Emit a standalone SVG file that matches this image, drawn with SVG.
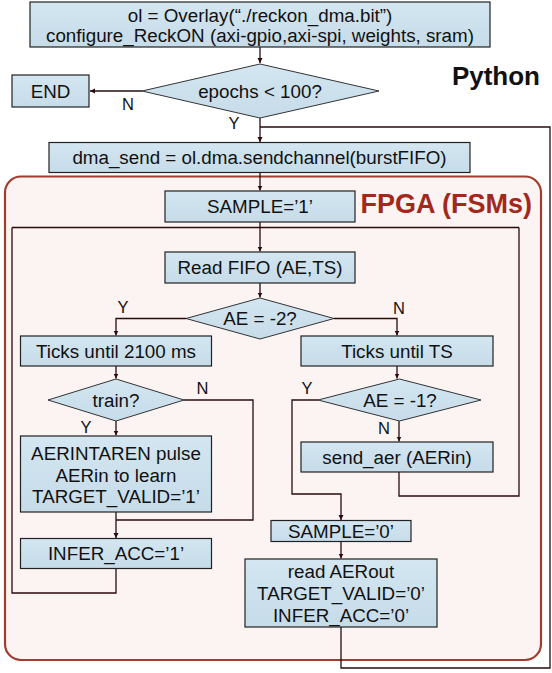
<svg xmlns="http://www.w3.org/2000/svg" width="552" height="673" viewBox="0 0 552 673">
<style>
text{font-family:"Liberation Sans",Arial,Helvetica,sans-serif;fill:#111;}
.t{font-size:18.8px;text-anchor:middle;}
.lbl{font-size:16.5px;text-anchor:middle;}
.box{fill:url(#bf);stroke:#222;stroke-width:1.2;}
.dia{fill:url(#bf);stroke:#333;stroke-width:1;}
.c{fill:none;stroke:#2a0b0b;stroke-width:1.3;}
.ca{fill:none;stroke:#2a0b0b;stroke-width:1.3;marker-end:url(#ah);}
</style>
<defs>
<linearGradient id="bf" x1="0" y1="0" x2="0" y2="1">
<stop offset="0" stop-color="#d3e6f2"/>
<stop offset="1" stop-color="#c6dce8"/>
</linearGradient>
<marker id="ah" markerWidth="6" markerHeight="6" refX="5" refY="2.5" orient="auto" markerUnits="userSpaceOnUse">
<path d="M0,0 L5,2.5 L0,5 z" fill="#2a0b0b"/>
</marker>
</defs>
<rect width="552" height="673" fill="#ffffff"/>
<g id="fpga-region">
<rect x="5" y="176.5" width="536" height="483.5" rx="16" fill="#fcf3f3" stroke="#a03c30" stroke-width="2.2"/>
<text x="532" y="213" style="font-size:27px;font-weight:bold;fill:#a2281c;text-anchor:end;">FPGA (FSMs)</text>
</g>
<g id="python-label">
<text x="540" y="85" style="font-size:26px;font-weight:bold;text-anchor:end;">Python</text>
</g>
<g id="connectors">
<path class="ca" d="M260,47 V63"/>
<path class="ca" d="M142,91 H90"/>
<path class="ca" d="M260,118 V142"/>
<path class="c" d="M341,627 V668 H550 V127 H260"/>
<path class="ca" d="M260,172.5 V190.5"/>
<path class="ca" d="M260,222 V251.5"/>
<path class="c" d="M12,227.5 H519"/>
<path class="ca" d="M260,283 V297.5"/>
<path class="ca" d="M186,318.5 H116 V335.5"/>
<path class="ca" d="M334,318.5 H397 V335.5"/>
<path class="ca" d="M116,366 V378.5"/>
<path class="ca" d="M397,366 V378.5"/>
<path class="ca" d="M116,421 V435.5"/>
<path class="c" d="M184,400 H253 V520 H116"/>
<path class="ca" d="M116,512 V538"/>
<path class="c" d="M116,568.5 V593 H12 V227.5"/>
<path class="ca" d="M399,421 V441.5"/>
<path class="c" d="M399,472 V496 H519 V227.5"/>
<path class="ca" d="M318,400 H292 V494 H341 V520"/>
<path class="ca" d="M341,541.5 V558.5"/>
</g>
<g id="n-overlay">
<rect class="box" x="30" y="2" width="460" height="45"/>
<text class="t" x="260" y="22">ol = Overlay(“./reckon_dma.bit”)</text>
<text class="t" x="260" y="41.5">configure_ReckON (axi-gpio,axi-spi, weights, sram)</text>
</g>
<g id="n-epochs">
<polygon class="dia" points="142,91 260,64 379,91 260,118"/>
<text class="t" x="260" y="97.5">epochs &lt; 100?</text>
<text class="lbl" x="128" y="110">N</text>
<text class="lbl" x="234" y="129">Y</text>
</g>
<g id="n-end">
<rect class="box" x="12" y="75" width="77" height="32"/>
<text class="t" x="50.5" y="97.5">END</text>
</g>
<g id="n-dma">
<rect class="box" x="49" y="142.5" width="421" height="30"/>
<text class="t" x="259.5" y="164">dma_send = ol.dma.sendchannel(burstFIFO)</text>
</g>
<g id="n-sample1">
<rect class="box" x="165" y="191" width="190" height="31"/>
<text class="t" x="260" y="213">SAMPLE=’1’</text>
</g>
<g id="n-readfifo">
<rect class="box" x="165" y="252" width="190" height="31"/>
<text class="t" x="260" y="274">Read FIFO (AE,TS)</text>
</g>
<g id="n-ae2">
<polygon class="dia" points="186,318.5 260,298 334,318.5 260,339"/>
<text class="t" x="260" y="325">AE = -2?</text>
<text class="lbl" x="123" y="313">Y</text>
<text class="lbl" x="399" y="314">N</text>
</g>
<g id="n-ticks2100">
<rect class="box" x="20.5" y="336" width="191" height="30"/>
<text class="t" x="116" y="357.5">Ticks until 2100 ms</text>
</g>
<g id="n-ticksts">
<rect class="box" x="301" y="336" width="192" height="30"/>
<text class="t" x="397" y="357.5">Ticks until TS</text>
</g>
<g id="n-train">
<polygon class="dia" points="48,400 116,379 184,400 116,421"/>
<text class="t" x="116" y="406.5">train?</text>
<text class="lbl" x="202.5" y="394">N</text>
<text class="lbl" x="86" y="433">Y</text>
</g>
<g id="n-ae1">
<polygon class="dia" points="318,400 399.5,379 481,400 399.5,421"/>
<text class="t" x="400" y="406.5">AE = -1?</text>
<text class="lbl" x="307" y="394">Y</text>
<text class="lbl" x="384" y="434">N</text>
</g>
<g id="n-aerintaren">
<rect class="box" x="20.5" y="436" width="191" height="76"/>
<text class="t" x="116" y="459.5">AERINTAREN pulse</text>
<text class="t" x="116" y="481.5">AERin to learn</text>
<text class="t" x="116" y="503">TARGET_VALID=’1’</text>
</g>
<g id="n-sendaer">
<rect class="box" x="301" y="442" width="192" height="30"/>
<text class="t" x="397" y="463.5">send_aer (AERin)</text>
</g>
<g id="n-infer1">
<rect class="box" x="20.5" y="538.5" width="191" height="30"/>
<text class="t" x="116" y="560">INFER_ACC=’1’</text>
</g>
<g id="n-sample0">
<rect class="box" x="271" y="520.5" width="140" height="21"/>
<text class="t" x="341" y="537.5">SAMPLE=’0’</text>
</g>
<g id="n-readaerout">
<rect class="box" x="245" y="559" width="192" height="68"/>
<text class="t" x="341" y="578">read AERout</text>
<text class="t" x="341" y="600">TARGET_VALID=’0’</text>
<text class="t" x="341" y="621.5">INFER_ACC=’0’</text>
</g>
</svg>
